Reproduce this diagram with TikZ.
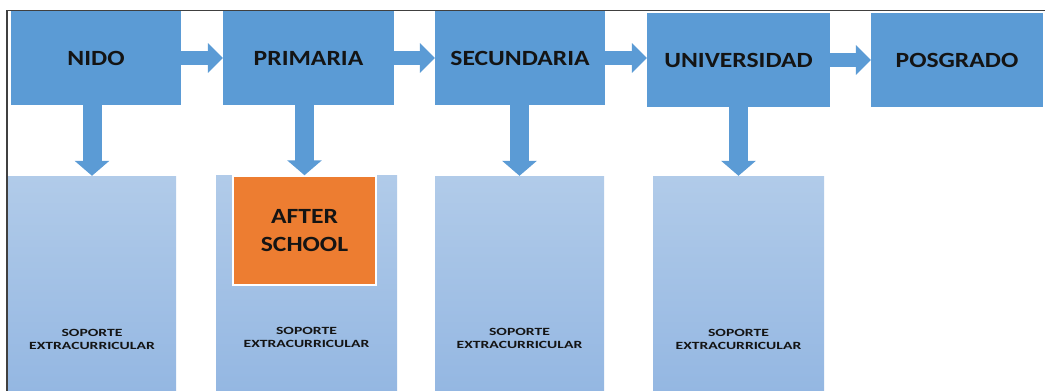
\documentclass[tikz,border=0pt]{standalone}
\usepackage{fontspec}
\usetikzlibrary{arrows.meta}
\newfontfamily\labfont[FakeStretch=1.18]{Carlito}
\newfontfamily\smlfont[FakeStretch=1.42]{Carlito}
\definecolor{topblue}{HTML}{5B9BD5}
\definecolor{lighttop}{HTML}{B1CBE9}
\definecolor{lightbot}{HTML}{94B7E2}
\definecolor{orangebox}{HTML}{ED7D31}
\definecolor{txt}{HTML}{141414}
\definecolor{frame}{HTML}{404040}
\tikzset{
  topbox/.style={rectangle, fill=topblue, inner sep=0pt, text=txt,
    font=\labfont\bfseries\fontsize{21.7}{26}\selectfont},
  lowbox/.style={rectangle, top color=lighttop, bottom color=lightbot, inner sep=0pt},
  orbox/.style={rectangle, fill=orangebox, draw=white, line width=1.5pt, inner sep=0pt,
    text=txt, align=center, font=\labfont\bfseries\fontsize{21.7}{28}\selectfont},
  soplabel/.style={inner sep=0pt, text=txt, align=center,
    font=\smlfont\bfseries\fontsize{11}{13}\selectfont},
  harrow/.style={draw=topblue, line width=14pt, line cap=butt,
    -{Triangle[width=29pt,length=15pt]}},
  varrow/.style={draw=topblue, line width=19pt, line cap=butt,
    -{Triangle[width=34pt,length=15pt]}},
}
\begin{document}
\begin{tikzpicture}[x=1pt,y=-1pt]
\useasboundingbox (0,0) rectangle (1045,391);
\fill[white] (0,0) rectangle (1045,391);
% top row
\node[topbox, minimum width=170pt, minimum height=94pt] (nido) at (96,58) {NIDO};
\node[topbox, minimum width=171pt, minimum height=94pt] (prim) at (308.5,58) {PRIMARIA};
\node[topbox, minimum width=170pt, minimum height=94pt] (secu) at (520,58) {SECUNDARIA};
\node[topbox, minimum width=183pt, minimum height=94pt] (univ) at (738.5,60) {UNIVERSIDAD};
\node[topbox, minimum width=172pt, minimum height=94pt] (posg) at (957,60) {POSGRADO};
% lower boxes
\node[lowbox, minimum width=168pt, minimum height=216pt] (b1) at (92,284) {};
\node[lowbox, minimum width=181pt, minimum height=217pt] (b2) at (306.5,283.5) {};
\node[lowbox, minimum width=169pt, minimum height=216pt] (b3) at (519.5,284) {};
\node[lowbox, minimum width=171pt, minimum height=216pt] (b4) at (738.5,284) {};
\node[orbox, minimum width=143pt, minimum height=109pt] (after) at (304.5,230.5) {AFTER\\SCHOOL};
% labels
\node[soplabel] (s1) at (92,339) {SOPORTE\\EXTRACURRICULAR};
\node[soplabel] (s2) at (306.5,337) {SOPORTE\\EXTRACURRICULAR};
\node[soplabel] (s3) at (519.5,338) {SOPORTE\\EXTRACURRICULAR};
\node[soplabel] (s4) at (738.5,339) {SOPORTE\\EXTRACURRICULAR};
% horizontal arrows
\draw[harrow] (nido.east) -- (nido.east -| prim.west);
\draw[harrow] (prim.east) -- (prim.east -| secu.west);
\draw[harrow] (secu.east) -- (secu.east -| univ.west);
\draw[harrow] (univ.east) -- (univ.east -| posg.west);
% vertical arrows
\draw[varrow] (nido.south -| b1.north) -- (b1.north);
\draw[varrow] (prim.south -| after.north) -- (after.north);
\draw[varrow] (secu.south -| b3.north) -- (b3.north);
\draw[varrow] (univ.south -| b4.north) -- (b4.north);
% frame
\draw[frame, line width=1.5pt] (7,391) -- (7,10.5) -- (1045,10.5);
\end{tikzpicture}
\end{document}
